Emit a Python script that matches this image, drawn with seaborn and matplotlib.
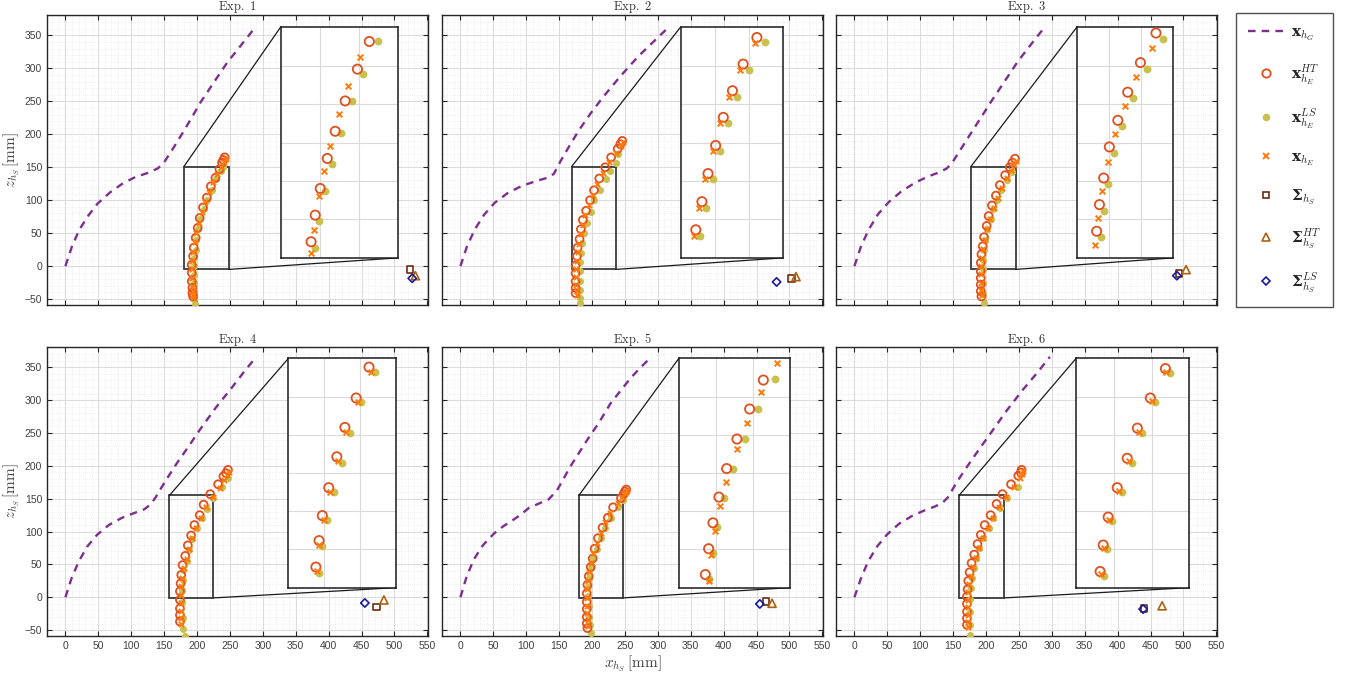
import numpy as np
import matplotlib
matplotlib.use("Agg")
import matplotlib.pyplot as plt
from matplotlib.lines import Line2D
from matplotlib.patches import Rectangle
from matplotlib.ticker import MultipleLocator
import seaborn as sns

# ---------------- data ----------------
TITLES = ["Exp. 1", "Exp. 2", "Exp. 3", "Exp. 4", "Exp. 5", "Exp. 6"]

# ground-truth path x_hG
G_X = [
    [0, 10, 21, 35, 49, 68, 88, 106, 124, 140, 149, 162, 175, 190, 205, 225, 246, 266, 285],
    [0, 10, 22, 36, 52, 72, 94, 115, 132, 142, 152, 166, 180, 198, 218, 243, 270, 295, 318],
    [0, 10, 22, 36, 52, 72, 93, 112, 128, 140, 148, 162, 176, 192, 208, 228, 248, 268, 287],
    [0, 9, 20, 33, 48, 66, 86, 104, 120, 130, 137, 152, 168, 186, 205, 228, 252, 272, 290],
    [0, 9, 20, 34, 51, 65, 79, 92, 104, 120, 134, 147, 167, 193, 210, 228, 258, 272, 285],
    [0, 10, 21, 35, 50, 68, 88, 106, 122, 134, 142, 156, 172, 190, 210, 232, 256, 278, 297],
]
G_Z = [
    [0, 30, 55, 77, 95, 112, 126, 135, 141, 148, 156, 176, 197, 222, 248, 278, 309, 334, 358],
    [0, 30, 56, 78, 96, 111, 122, 129, 134, 140, 159, 183, 206, 232, 258, 288, 318, 342, 364],
    [0, 30, 56, 79, 97, 114, 127, 136, 142, 148, 156, 178, 200, 225, 250, 280, 310, 336, 360],
    [0, 28, 54, 77, 95, 110, 121, 128, 134, 142, 152, 177, 202, 228, 256, 288, 318, 344, 366],
    [0, 30, 57, 79, 97, 108, 117, 126, 136, 143, 149, 163, 199, 240, 265, 295, 333, 348, 361],
    [0, 29, 55, 78, 96, 112, 124, 132, 138, 144, 152, 176, 200, 226, 254, 285, 316, 342, 366],
]

# estimated positions x_hE^HT (hollow circles)
HT_X = [
    [242, 240, 238, 234, 228, 221, 215, 209, 204, 201, 198, 195, 194, 192, 192, 192, 193, 193, 194],
    [246, 243, 239, 229, 220, 211, 203, 197, 191, 186, 183, 181, 178, 177, 175, 175, 175, 175, 175],
    [244, 240, 236, 229, 221, 215, 209, 204, 201, 197, 195, 193, 192, 192, 192, 192, 192, 193],
    [247, 244, 240, 232, 220, 210, 204, 196, 191, 186, 182, 178, 176, 175, 174, 174, 174, 174, 174],
    [252, 250, 248, 244, 232, 224, 216, 209, 204, 201, 198, 195, 193, 192, 192, 192, 192, 192, 193],
    [254, 253, 249, 238, 225, 216, 207, 198, 192, 187, 182, 178, 175, 173, 172, 171, 171, 171, 171, 171],
]
HT_Z = [
    [165, 161, 157, 147, 134, 121, 104, 89, 73, 58, 43, 28, 15, 2, -10, -23, -33, -41, -46],
    [190, 185, 178, 165, 150, 133, 115, 100, 84, 70, 56, 41, 28, 15, 1, -11, -23, -33, -41],
    [163, 157, 150, 138, 123, 107, 92, 76, 61, 44, 30, 18, 5, -8, -18, -28, -38, -46],
    [194, 189, 184, 172, 157, 141, 125, 110, 94, 79, 63, 49, 34, 21, 9, -4, -17, -27, -37],
    [164, 161, 157, 151, 137, 121, 106, 90, 74, 59, 46, 32, 19, 6, -7, -18, -30, -40, -47],
    [194, 190, 185, 172, 157, 142, 125, 110, 95, 81, 65, 52, 38, 25, 12, 1, -10, -22, -32, -42],
]
# x_hE^LS (filled dots)
LS_X = [
    [240, 237, 229, 222, 215, 210, 205, 201, 199, 198, 196, 195, 195, 195, 196, 196, 197],
    [240, 236, 228, 221, 212, 203, 198, 192, 188, 184, 183, 182, 181, 181, 181, 181, 182],
    [239, 232, 223, 216, 210, 207, 202, 198, 197, 196, 195, 196, 196, 197],
    [247, 238, 224, 215, 207, 200, 193, 188, 184, 179, 178, 177, 177, 178, 179, 181],
    [247, 239, 229, 220, 213, 207, 202, 198, 196, 194, 194, 195, 196, 197, 198],
    [249, 232, 221, 211, 204, 196, 190, 185, 181, 178, 177, 176, 176, 176, 176],
]
LS_Z = [
    [150, 144, 132, 116, 101, 86, 71, 56, 40, 25, 12, 0, -13, -26, -40, -50, -57],
    [170, 157, 144, 132, 116, 101, 82, 66, 50, 35, 20, 6, -8, -22, -36, -48, -56],
    [143, 130, 116, 101, 87, 71, 56, 40, 25, 10, -5, -25, -42, -56],
    [181, 168, 151, 134, 120, 105, 89, 72, 55, 42, 26, 11, -7, -32, -48, -59],
    [148, 137, 121, 106, 90, 74, 59, 45, 30, 16, 2, -13, -30, -42, -55],
    [168, 151, 136, 120, 105, 90, 75, 59, 44, 29, 14, -2, -22, -42, -57],
]
# x_hE (crosses)
E_X = [
    [244, 241, 236, 231, 224, 218, 212, 207, 203, 199, 197, 194, 193, 193, 193, 193, 194, 194, 194],
    [247, 244, 236, 226, 217, 208, 201, 195, 190, 186, 183, 180, 178, 177, 176, 176, 176, 177, 177],
    [246, 242, 238, 232, 225, 218, 212, 206, 202, 199, 196, 194, 193, 193, 193, 193, 194],
    [249, 246, 241, 235, 225, 214, 206, 199, 193, 188, 184, 180, 177, 176, 175, 175, 175, 175, 176],
    [253, 250, 246, 239, 228, 220, 213, 207, 202, 199, 196, 194, 193, 193, 193, 193, 194, 194],
    [256, 254, 251, 243, 231, 220, 211, 203, 196, 190, 185, 180, 177, 174, 173, 172, 172, 172, 172, 173],
]
E_Z = [
    [163, 158, 151, 140, 128, 113, 97, 82, 66, 50, 36, 21, 8, -5, -18, -30, -38, -44, -48],
    [188, 182, 172, 158, 142, 125, 108, 92, 77, 62, 48, 34, 21, 8, -5, -17, -28, -37, -44],
    [160, 154, 146, 134, 118, 103, 88, 72, 56, 40, 26, 12, 0, -12, -25, -36, -44],
    [191, 186, 179, 167, 152, 137, 121, 106, 90, 74, 58, 44, 30, 17, 4, -9, -21, -32, -41],
    [162, 158, 152, 143, 129, 114, 98, 82, 67, 52, 39, 25, 12, -1, -13, -24, -35, -44],
    [192, 188, 182, 168, 153, 137, 121, 106, 90, 75, 60, 46, 33, 20, 8, -4, -15, -27, -37, -45],
]

# values shown in the zoom insets
IHT_X = [
    [231.5, 224.6, 217.5, 211.7, 207.1, 203.0, 200.1, 197.7],
    [219, 210, 203, 197, 192, 187, 183, 179],
    [233, 222, 213, 206, 200, 196, 193, 191],
    [208, 200, 193, 188, 183, 179, 177, 175],
    [231.1, 222.8, 215.1, 208.9, 204.2, 200.6, 198.0, 196.0],
    [213.4, 204.2, 196.3, 190.1, 184.0, 178.5, 175.5, 173.6],
]
IHT_Z = [
    [141.3, 122.6, 101.1, 80.6, 62.2, 41.9, 23.9, 5.9],
    [144, 126, 108, 90, 71, 52, 33, 14],
    [147, 127, 107, 88, 70, 49, 31, 13],
    [149, 128, 108, 88, 67, 48, 31, 13],
    [140.2, 120.5, 100.1, 80.0, 60.6, 43.1, 25.5, 7.9],
    [148, 128, 107.5, 87, 67, 47, 28, 10],
]
ILS_X = [
    [236.8, 228.1, 221.5, 215.0, 209.8, 205.9, 202.4, 200.1],
    [224, 214, 206, 200, 195, 190, 186, 182],
    [238, 227, 217, 209, 203, 199, 196, 194],
    [212, 203, 196, 191, 186, 182, 179, 177],
    [238.0, 228.0, 219.8, 212.9, 207.3, 203.2, 200.4, 198.4],
    [216, 207, 199, 193, 187, 181, 178, 176],
]
ILS_Z = [
    [141.3, 119.6, 100.9, 79.1, 58.6, 39.9, 19.8, 1.4],
    [141, 122, 104, 86, 67, 48, 29, 10],
    [143, 123, 103, 84, 66, 45, 27, 9],
    [146, 125, 104, 84, 64, 45, 27, 9],
    [141.0, 120.5, 100.4, 80.0, 59.8, 40.5, 22.9, 5.1],
    [145, 125, 104, 84, 64, 44, 25, 7],
]
IE_X = [
    [226.2, 219.4, 214.0, 208.6, 205.2, 202.2, 199.1, 197.8],
    [218, 208, 201, 195, 190, 185, 181, 178],
    [230, 219, 211, 204, 199, 195, 192, 190],
    [209, 201, 194, 189, 184, 180, 177, 176],
    [239.2, 229.6, 221.0, 214.9, 208.5, 204.8, 201.8, 199.6, 198.0],
    [214, 205, 197, 191, 185, 179, 176, 174],
]
IE_Z = [
    [130.6, 111.0, 92.6, 70.7, 53.6, 36.5, 13.9, -1.4],
    [140, 122, 104, 86, 67, 48, 29, 10],
    [137, 117, 98, 79, 60, 40, 22, 4],
    [146, 125, 105, 85, 64, 45, 28, 10],
    [151.6, 132.2, 111.0, 93.5, 71.1, 54.5, 37.7, 21.0, 3.8],
    [146, 126, 105, 85, 65, 45, 26, 8],
]

# Sigma_hS, Sigma_hS^HT, Sigma_hS^LS
S_X = [524, 503, 493, 473, 464.5, 440]
S_Z = [-5, -19, -11.4, -14.8, -6.6, -17]
SHT_X = [531.8, 510, 504, 484, 473.6, 467.6]
SHT_Z = [-14.5, -16, -5.3, -4.1, -9.2, -13]
SLS_X = [527, 480.5, 490, 455, 455, 438.7]
SLS_Z = [-18.5, -24, -14.5, -8.7, -10.2, -18]

# zoom source rectangles (x0, x1, z0, z1) and inset placement (x0, x1, z0, z1)
SRC = [
    (180, 248, -5, 151), (169, 236, -5, 151), (177, 245, -5, 151),
    (158, 225, -1, 155), (180, 247, -1, 155), (159, 228, -1, 155),
]
BOX = [
    (327, 505, 12.5, 362.6), (334.5, 490, 12.5, 362.6), (338, 484, 12.5, 362.6),
    (339, 503, 14.6, 363.8), (332, 500.3, 14.6, 363.8), (337, 509, 14.6, 363.8),
]

XTICKS = list(range(0, 551, 50))
ZTICKS = list(range(-50, 351, 50))

# ---------------- style ----------------
sns.set_theme(style="white")
plt.rcParams["font.family"] = ["Liberation Sans", "DejaVu Sans"]
plt.rcParams["mathtext.fontset"] = "custom"
plt.rcParams["mathtext.rm"] = "cmr10"
plt.rcParams["mathtext.it"] = "cmmi10"
plt.rcParams["mathtext.bf"] = "DejaVu Serif:bold"
plt.rcParams["mathtext.fallback"] = "cm"
plt.rcParams["axes.formatter.use_mathtext"] = False

C_G = "#7E2F8E"
C_HT = "#E0501E"
C_LS = "#C9C04E"
C_E = "#FF7A0A"
C_S = "#6B2E10"
C_SHT = "#B0600F"
C_SLS = "#1A1A9A"

fig = plt.figure(figsize=(13.5, 6.75), dpi=100)
W, H = 1350.0, 675.0
lefts = [47, 442, 836]
rows = [(15, 305), (347, 636)]


def draw_points(a, hx, hz, lx, lz, ex, ez, s_o, s_d, s_x):
    sns.scatterplot(x=lx, y=lz, ax=a, color=C_LS, marker="o", s=s_d, edgecolor=C_LS,
                    linewidth=0, zorder=4)
    sns.scatterplot(x=hx, y=hz, ax=a, color=C_HT, marker="o", s=s_o, facecolor="none",
                    edgecolor=C_HT, linewidth=1.3, zorder=5)
    sns.scatterplot(x=ex, y=ez, ax=a, color=C_E, marker="x", s=s_x, linewidth=1.4, zorder=6)


for i in range(6):
    r, c = divmod(i, 3)
    top, bot = rows[r]
    ax = fig.add_axes([lefts[c] / W, 1 - bot / H, 381 / W, (bot - top) / H])
    ax.set_xlim(-28, 551)
    ax.set_ylim(-59, 381)
    ax.set_xticks(XTICKS)
    ax.set_yticks(ZTICKS)
    ax.xaxis.set_minor_locator(MultipleLocator(10))
    ax.yaxis.set_minor_locator(MultipleLocator(10))
    ax.grid(True, which="major", color="#dcdcdc", lw=0.8)
    ax.grid(True, which="minor", color="#e2e2e2", lw=0.5, ls=(0, (1, 2)))
    ax.set_axisbelow(True)
    ax.tick_params(which="major", direction="in", top=True, right=True, bottom=True, left=True,
                   length=3.5, width=0.8, labelsize=7.5, labelcolor="#404040", color="#262626")
    ax.tick_params(which="minor", length=0)
    ax.tick_params(labelbottom=(r == 1), labelleft=(c == 0))
    for sp in ax.spines.values():
        sp.set_color("#262626")
        sp.set_linewidth(1.0)

    sns.lineplot(x=G_X[i], y=G_Z[i], ax=ax, color=C_G, lw=1.7, sort=False,
                 estimator=None, zorder=3).lines[-1].set_dashes((3.2, 2.6))

    x0, x1, z0, z1 = SRC[i]
    bx0, bx1, bz0, bz1 = BOX[i]
    ax.add_patch(Rectangle((x0, z0), x1 - x0, z1 - z0, fill=False, ec="#3a3a3a", lw=1.3, zorder=2))
    ax.plot([x0, bx0], [z1, bz1], color="#1a1a1a", lw=0.9, zorder=2)
    ax.plot([x1, bx1], [z0, bz0], color="#1a1a1a", lw=0.9, zorder=2)

    draw_points(ax, HT_X[i], HT_Z[i], LS_X[i], LS_Z[i], E_X[i], E_Z[i], 32, 26, 14)

    sns.scatterplot(x=[S_X[i]], y=[S_Z[i]], ax=ax, marker="s", s=22, color=C_S,
                    facecolor="none", edgecolor=C_S, linewidth=1.2, zorder=6)
    sns.scatterplot(x=[SHT_X[i]], y=[SHT_Z[i]], ax=ax, marker="^", s=34, color=C_SHT,
                    facecolor="none", edgecolor=C_SHT, linewidth=1.2, zorder=6)
    sns.scatterplot(x=[SLS_X[i]], y=[SLS_Z[i]], ax=ax, marker="D", s=18, color=C_SLS,
                    facecolor="none", edgecolor=C_SLS, linewidth=1.2, zorder=6)

    ins = ax.inset_axes([bx0, bz0, bx1 - bx0, bz1 - bz0], transform=ax.transData, zorder=7)
    ins.set_facecolor("white")
    ins.set_xlim(x0, x1)
    ins.set_ylim(z0, z1)
    ins.set_xticks(np.linspace(x0, x1, 4)[1:-1])
    ins.set_yticks(np.linspace(z0, z1, 7)[1:-1])
    ins.grid(True, color="#dadada", lw=0.8)
    ins.set_axisbelow(True)
    ins.tick_params(length=0, labelbottom=False, labelleft=False)
    for sp in ins.spines.values():
        sp.set_color("#1a1a1a")
        sp.set_linewidth(1.1)
    draw_points(ins, IHT_X[i], IHT_Z[i], ILS_X[i], ILS_Z[i], IE_X[i], IE_Z[i], 44, 32, 17)
    ins.set_xlabel("")
    ins.set_ylabel("")

    ax.set_title(r"$\mathrm{%s}$" % TITLES[i].replace(" ", r"\ "), fontsize=9, pad=3, color="#333333")
    ax.set_xlabel("")
    ax.set_ylabel("")
    if c == 0:
        ax.set_ylabel(r"$z_{h_S}\,[\mathrm{mm}]$", fontsize=11, color="#444444", labelpad=2)
    if i == 4:
        ax.set_xlabel(r"$x_{h_S}\,[\mathrm{mm}]$", fontsize=11, color="#444444", labelpad=2)

handles = [
    Line2D([], [], color=C_G, lw=1.7, ls=(0, (3.2, 2.6))),
    Line2D([], [], ls="", marker="o", mfc="none", mec=C_HT, mew=1.3, ms=6),
    Line2D([], [], ls="", marker="o", mfc=C_LS, mec=C_LS, mew=0, ms=5.5),
    Line2D([], [], ls="", marker="x", color=C_E, mew=1.4, ms=4.5),
    Line2D([], [], ls="", marker="s", mfc="none", mec=C_S, mew=1.2, ms=5),
    Line2D([], [], ls="", marker="^", mfc="none", mec=C_SHT, mew=1.2, ms=6),
    Line2D([], [], ls="", marker="D", mfc="none", mec=C_SLS, mew=1.2, ms=4.5),
]
labels = [r"$\mathbf{x}_{h_G}$", r"$\mathbf{x}_{h_E}^{HT}$", r"$\mathbf{x}_{h_E}^{LS}$",
          r"$\mathbf{x}_{h_E}$", r"$\mathbf{\Sigma}_{h_S}$", r"$\mathbf{\Sigma}_{h_S}^{HT}$",
          r"$\mathbf{\Sigma}_{h_S}^{LS}$"]
leg = fig.legend(handles, labels, loc="upper left", bbox_to_anchor=(1236 / W, 1 - 13 / H),
                 frameon=True, fancybox=False, edgecolor="#262626", fontsize=11,
                 labelspacing=1.28, handlelength=2.3, handletextpad=0.5, borderpad=0.8,
                 borderaxespad=0)
leg.get_frame().set_linewidth(1.0)

fig.savefig("out.png", dpi=100)
